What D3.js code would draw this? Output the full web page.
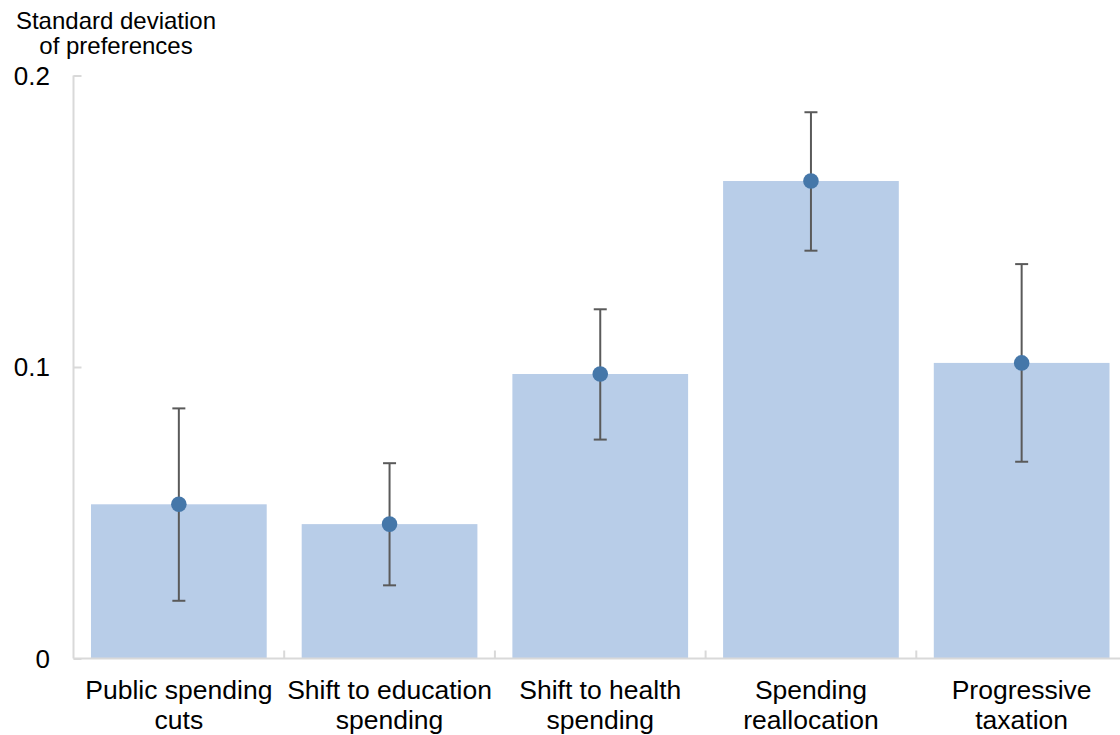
<!DOCTYPE html>
<html>
<head>
<meta charset="utf-8">
<script src="https://cdn.jsdelivr.net/npm/d3@7"></script>
<style>
  html, body { margin: 0; padding: 0; background: #fff; }
  svg { display: block; font-family: Arial, "Liberation Sans", sans-serif; }
</style>
</head>
<body>
<svg id="chart" width="1120" height="735"></svg>
<script>
// Policy dimensions and the spread of preferences over each
const categories = [
  ["Public spending", "cuts"],
  ["Shift to education", "spending"],
  ["Shift to health", "spending"],
  ["Spending", "reallocation"],
  ["Progressive", "taxation"]
];
const sdValues = [0.0529, 0.0461, 0.0976, 0.1638, 0.1014];
const ciLow    = [0.0198, 0.0251, 0.0751, 0.1399, 0.0675];
const ciHigh   = [0.0858, 0.0670, 0.1198, 0.1874, 0.1353];
const yTicks   = [0, 0.1, 0.2];
const yTickLabels = ["0", "0.1", "0.2"];
const yTitle = ["Standard deviation", "of preferences"];

const rows = categories.map((c, i) => ({
  key: c.join(" "), lines: c, v: sdValues[i], lo: ciLow[i], hi: ciHigh[i]
}));

const svg = d3.select("#chart");
const plotLeft = 73.5, plotRight = 1127, plotTop = 75.5, plotBottom = 658.5;

const x = d3.scaleBand()
  .domain(rows.map(d => d.key))
  .range([plotLeft, plotRight])
  .paddingInner(0.166)
  .paddingOuter(0.083);

const y = d3.scaleLinear().domain([0, 0.2]).range([plotBottom, plotTop]);

const axisColor = "#d9d9d9";

// Bars
svg.append("g").selectAll("rect")
  .data(rows).join("rect")
  .attr("x", d => x(d.key))
  .attr("width", x.bandwidth())
  .attr("y", d => y(d.v))
  .attr("height", d => y(0) - y(d.v))
  .attr("fill", "#b8cde8");

// Y axis: line with inward ticks
const yAxis = d3.axisRight(y).tickValues(yTicks).tickSize(8).tickFormat("");
const gy = svg.append("g").attr("transform", `translate(${plotLeft},0)`).call(yAxis);
gy.select(".domain").attr("stroke", axisColor).attr("stroke-width", 2)
  .attr("d", `M0,${plotTop}V${plotBottom}`);
gy.selectAll(".tick line").attr("stroke", axisColor).attr("stroke-width", 2);

svg.append("g").selectAll("text")
  .data(yTicks).join("text")
  .attr("x", 50)
  .attr("y", d => y(d))
  .attr("dy", "0.35em")
  .attr("text-anchor", "end")
  .attr("font-size", 26)
  .attr("fill", "#000")
  .text((d, i) => yTickLabels[i]);

// X axis: baseline with upward ticks at category boundaries
svg.append("line")
  .attr("x1", plotLeft).attr("x2", 1120)
  .attr("y1", plotBottom).attr("y2", plotBottom)
  .attr("stroke", axisColor).attr("stroke-width", 2);

const step = x.step();
const boundaries = rows.slice(1).map(d => x(d.key) - (step - x.bandwidth()) / 2);
svg.append("g").selectAll("line")
  .data(boundaries).join("line")
  .attr("x1", d => d).attr("x2", d => d)
  .attr("y1", plotBottom).attr("y2", plotBottom - 8)
  .attr("stroke", axisColor).attr("stroke-width", 2);

// Category labels
const lab = svg.append("g").selectAll("text")
  .data(rows).join("text")
  .attr("x", d => x(d.key) + x.bandwidth() / 2)
  .attr("y", 699)
  .attr("text-anchor", "middle")
  .attr("font-size", 26.5)
  .attr("fill", "#000");
lab.selectAll("tspan")
  .data(d => d.lines.map(t => ({ t, cx: x(d.key) + x.bandwidth() / 2 })))
  .join("tspan")
  .attr("x", d => d.cx)
  .attr("dy", (d, i) => i === 0 ? 0 : 29.5)
  .text(d => d.t);

// Error bars
const eb = svg.append("g").attr("stroke", "#5a5a5a").attr("stroke-width", 2);
rows.forEach(d => {
  const cx = x(d.key) + x.bandwidth() / 2;
  eb.append("line").attr("x1", cx).attr("x2", cx).attr("y1", y(d.lo)).attr("y2", y(d.hi));
  eb.append("line").attr("x1", cx - 6.5).attr("x2", cx + 6.5).attr("y1", y(d.hi)).attr("y2", y(d.hi));
  eb.append("line").attr("x1", cx - 6.5).attr("x2", cx + 6.5).attr("y1", y(d.lo)).attr("y2", y(d.lo));
});

// Point estimates
svg.append("g").selectAll("circle")
  .data(rows).join("circle")
  .attr("cx", d => x(d.key) + x.bandwidth() / 2)
  .attr("cy", d => y(d.v))
  .attr("r", 7.8)
  .attr("fill", "#4577a9");

// Axis title
svg.append("text")
  .attr("x", 116).attr("y", 29)
  .attr("text-anchor", "middle")
  .attr("font-size", 24)
  .attr("fill", "#000")
  .selectAll("tspan").data(yTitle).join("tspan")
  .attr("x", 116)
  .attr("dy", (d, i) => i === 0 ? 0 : 25)
  .text(d => d);
</script>
</body>
</html>
